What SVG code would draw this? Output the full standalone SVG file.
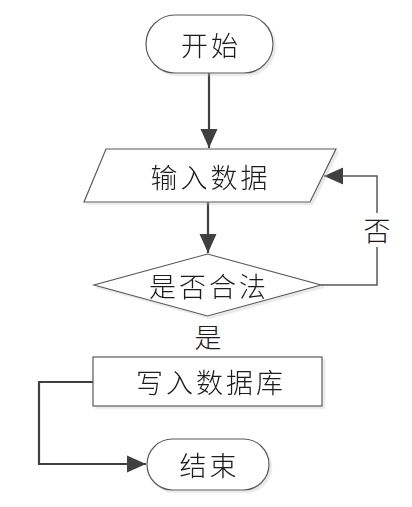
<svg xmlns="http://www.w3.org/2000/svg" width="412" height="507" viewBox="0 0 412 507">
<defs>
<style>
.shape{fill:#ffffff;stroke:#595959;stroke-width:1.2}
.lbl{font-family:"Noto Sans CJK SC","Noto Sans",sans-serif;font-size:27px;font-weight:300;letter-spacing:3px;fill:#1a1a1a;text-anchor:middle;dominant-baseline:central}
.conn{fill:none;stroke:#404040;stroke-width:2.2}
.thin{fill:none;stroke:#595959;stroke-width:1.5}
</style>
<filter id="sh" x="-10%" y="-10%" width="130%" height="140%">
<feDropShadow dx="2.5" dy="2.5" stdDeviation="0.6" flood-color="#c0c0c0" flood-opacity="0.35"/>
</filter>
<marker id="ah" markerUnits="userSpaceOnUse" markerWidth="20" markerHeight="20" viewBox="0 0 20 20" refX="19" refY="10" orient="auto">
<path d="M0,1.5 L19,10 L0,18.5 Z" fill="#404040"/>
</marker>
</defs>
<rect width="412" height="507" fill="#ffffff"/>
<g id="connectors">
<path class="conn" d="M209,73 V148" marker-end="url(#ah)"/>
<path class="conn" d="M208,202 V253" marker-end="url(#ah)"/>
<path class="thin" d="M321,285 H377 V247"/>
<path class="thin" d="M377,213 V176 H324" marker-end="url(#ah)"/>
<path class="conn" d="M93,382 H39 V464 H146" marker-end="url(#ah)"/>
<text class="lbl" x="378.5" y="229">否</text>
<text class="lbl" x="209.5" y="336">是</text>
</g>
<g id="start" filter="url(#sh)">
<rect class="shape" x="146" y="15" width="127" height="58" rx="29" ry="29"/>
<text class="lbl" x="211" y="44">开始</text>
</g>
<g id="input" filter="url(#sh)">
<polygon class="shape" points="106,149 336,149 310,202 84,202"/>
<text class="lbl" x="210.5" y="176">输入数据</text>
</g>
<g id="check" filter="url(#sh)">
<polygon class="shape" points="207.5,254 321,285 207.5,316 94,285"/>
<text class="lbl" x="209" y="285">是否合法</text>
</g>
<g id="write" filter="url(#sh)">
<rect class="shape" x="93" y="357" width="229" height="49"/>
<text class="lbl" x="211" y="381.5">写入数据库</text>
</g>
<g id="end" filter="url(#sh)">
<rect class="shape" x="147" y="439" width="122" height="51" rx="25.5" ry="25.5"/>
<text class="lbl" x="209.5" y="464.5">结束</text>
</g>
</svg>
